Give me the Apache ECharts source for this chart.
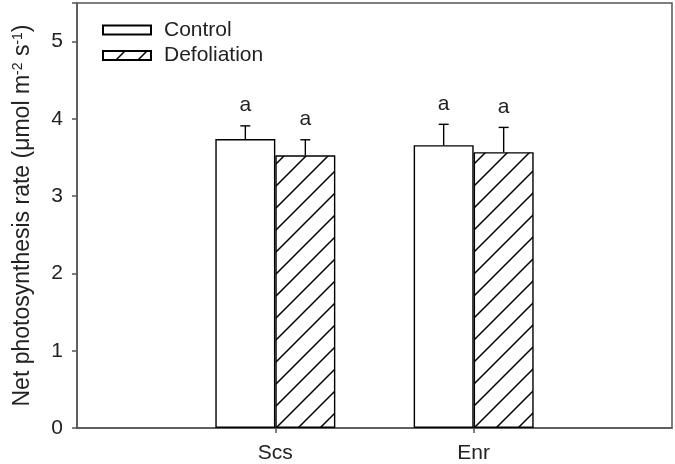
<!DOCTYPE html>
<html><head><meta charset="utf-8">
<script src="https://cdn.jsdelivr.net/npm/echarts@6/dist/echarts.min.js"></script>
<style>html,body{margin:0;padding:0;background:#fff}#c{width:675px;height:464px}</style>
</head><body><div id="c"></div>
<script>
const categories = ['', 'Scs', 'Enr', ''];
const seriesNames = ['Control', 'Defoliation'];
const controlMean = [null, 3.74, 3.66, null];
const controlErr  = [null, 0.17, 0.27, null];
const defolMean   = [null, 3.53, 3.57, null];
const defolErr    = [null, 0.20, 0.32, null];
const controlLetters = [null, 'a', 'a', null];
const defolLetters   = [null, 'a', 'a', null];
const yMin = 0, yMax = 5.5, yStep = 1;

// hatch pattern
const tile = 22;
const pc = document.createElement('canvas');
pc.width = tile; pc.height = tile;
const ctx = pc.getContext('2d');
ctx.fillStyle = '#fff'; ctx.fillRect(0, 0, tile, tile);
ctx.strokeStyle = '#000'; ctx.lineWidth = 1.5;
ctx.beginPath();
ctx.moveTo(-2, tile + 2); ctx.lineTo(tile + 2, -2);
ctx.moveTo(-2, 2); ctx.lineTo(2, -2);
ctx.moveTo(tile - 2, tile + 2); ctx.lineTo(tile + 2, tile - 2);
ctx.stroke();
const hatch = { image: pc, repeat: 'repeat' };

const FONT = '"Liberation Sans", Arial, sans-serif';
const BAR_W = 60;
function errData(means, errs, letters, side) {
  const out = [];
  means.forEach((m, i) => { if (m != null) out.push([i, m, m + errs[i], letters[i], side]); });
  return out;
}
function renderErr(params, api) {
  const side = api.value(4);
  const base = api.coord([api.value(0), api.value(1)]);
  const top = api.coord([api.value(0), api.value(2)]);
  const x = base[0] + side * BAR_W / 2;
  const cap = 5;
  return {
    type: 'group',
    children: [
      { type: 'line', shape: { x1: x, y1: base[1], x2: x, y2: top[1] }, style: { stroke: '#000', lineWidth: 1.4 } },
      { type: 'line', shape: { x1: x - cap, y1: top[1], x2: x + cap, y2: top[1] }, style: { stroke: '#000', lineWidth: 1.4 } },
      { type: 'text', x: x, y: top[1] - 10, style: { text: api.value(3), fill: '#222', font: '21px ' + FONT, align: 'center', verticalAlign: 'bottom' } }
    ]
  };
}

const chart = echarts.init(document.getElementById('c'), null, { renderer: 'canvas' });
chart.setOption({
  animation: false,
  backgroundColor: '#fff',
  textStyle: { fontFamily: FONT },
  grid: { left: 77, right: 3, top: 3, bottom: 36, show: true, borderColor: '#555', borderWidth: 1.5 },
  legend: {
    orient: 'vertical', left: 102, top: 19.5, padding: 0, itemWidth: 48, itemHeight: 9, itemGap: 4.5,
    icon: 'rect',
    data: seriesNames,
    textStyle: { fontSize: 21, lineHeight: 18, color: '#222', padding: [0, 0, 0, 8] }
  },
  xAxis: {
    type: 'category', data: categories, boundaryGap: false,
    axisLine: { lineStyle: { color: '#555', width: 1.5 } },
    axisTick: { show: true, length: 5, lineStyle: { color: '#555', width: 1.5 }, interval: (i) => categories[i] !== '' },
    axisLabel: { interval: 0, fontSize: 21, color: '#222', margin: 15 },
    splitLine: { show: false }
  },
  yAxis: {
    type: 'value', min: yMin, max: yMax, interval: yStep,
    axisLine: { show: true, lineStyle: { color: '#555', width: 1.5 } },
    axisTick: { show: true, length: 5, lineStyle: { color: '#555', width: 1.5 } },
    axisLabel: { fontSize: 21, color: '#222', margin: 14, formatter: (v) => Number.isInteger(v) ? String(v) : '' },
    splitLine: { show: false },
    name: 'Net photosynthesis rate (μmol m{sup|-2} s{sup|-1})',
    nameLocation: 'middle', nameGap: 43, nameRotate: 90,
    nameTextStyle: {
      fontSize: 23, color: '#222',
      rich: { sup: { fontSize: 14, verticalAlign: 'top', color: '#222', lineHeight: 22 } }
    }
  },
  series: [
    { name: seriesNames[0], type: 'bar', data: controlMean, barWidth: BAR_W, barGap: '0%',
      itemStyle: { color: '#fff', borderColor: '#000', borderWidth: 1.4 } },
    { name: seriesNames[1], type: 'bar', data: defolMean, barWidth: BAR_W, barGap: '0%',
      itemStyle: { color: hatch, borderColor: '#000', borderWidth: 1.4 } },
    { type: 'custom', renderItem: renderErr, data: errData(controlMean, controlErr, controlLetters, -1), encode: { x: 0, y: 1 }, z: 5 },
    { type: 'custom', renderItem: renderErr, data: errData(defolMean, defolErr, defolLetters, 1), encode: { x: 0, y: 1 }, z: 5 }
  ]
});
</script>
</body></html>
